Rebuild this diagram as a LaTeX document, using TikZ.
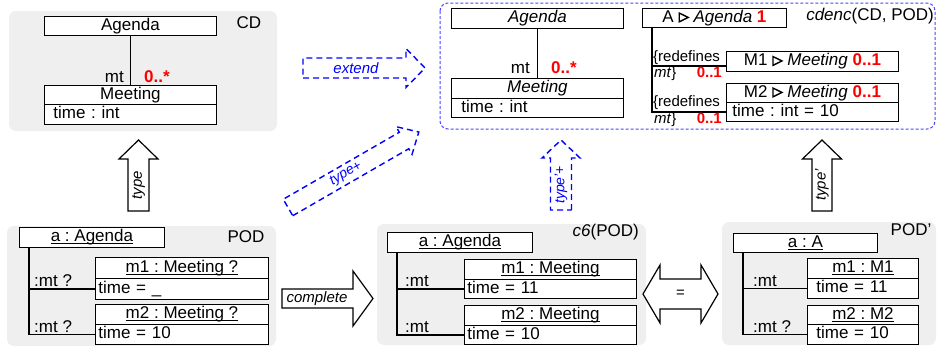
\documentclass[tikz,border=0pt]{standalone}
\usepackage{fontspec}
\setmainfont{Liberation Sans}
\definecolor{panelgray}{RGB}{239,239,239}
\definecolor{encblue}{RGB}{70,70,255}
\definecolor{multred}{RGB}{255,0,0}
\frenchspacing
\newcommand\fbig{\fontsize{17}{20}\selectfont}
\newcommand\fmid{\fontsize{15}{18}\selectfont}
\newcommand\fsml{\fontsize{14}{16}\selectfont}
\newcommand\redmult[1]{\textcolor{multred}{\bfseries #1}}
% open triangle marking the encoded class
\newcommand\subsym{\tikz[baseline=0pt]\draw[line width=1.4pt,line join=miter]
  (0pt,0.6pt) -- (0pt,9.4pt) -- (9pt,5pt) -- cycle;}
% underline drawn through the descenders, as in object names
\newsavebox\ulbox
\newcommand\undl[1]{\sbox\ulbox{#1}\rlap{\rule[-2.2pt]{\wd\ulbox}{0.9pt}}\usebox\ulbox}
% block arrow: style, start point, angle, body length, head length, body half width, head half width
\newcommand\blockarrow[7]{%
  \draw[#1,shift={#2},rotate=#3] (0,#6) -- (#4,#6) -- (#4,#7) -- ({#4+#5},0)
    -- (#4,-#7) -- (#4,-#6) -- (0,-#6) -- cycle;}
% class / object compartments: name, x, y, width, height, text
\newcommand\titlebox[6]{%
  \node[umlbox,minimum width=#4,minimum height=#5] (#1) at (#2,#3) {#6};}
% left aligned compartment: name, x, y, width, height, left padding, text
\newcommand\attrbox[7]{%
  \pgfmathsetmacro\attrtw{#4-2*#6}%
  \node[umlbox,minimum width=#4,minimum height=#5,text width=\attrtw pt,
        align=left,inner xsep=#6pt] (#1) at (#2,#3) {#7};}
\begin{document}
\begin{tikzpicture}[x=1pt,y=-1pt,
  panel/.style={fill=panelgray,draw=none,rounded corners=7pt},
  umlbox/.style={draw=black,line width=0.9pt,fill=white,inner sep=0pt,
    anchor=north west,font=\fbig,text height=12.5pt,text depth=3.5pt},
  assoc/.style={draw=black,line width=1.7pt},
  lbl/.style={inner sep=0pt,font=\fbig},
  arrlbl/.style={inner sep=0pt,font=\fmid\itshape},
  solidarrow/.style={draw=black,fill=white,line width=1.2pt,line join=miter},
  dasharrow/.style={draw=blue,line width=1.4pt,dash pattern=on 6pt off 4pt},
]
\useasboundingbox (0,0) rectangle (938,348);

% ---------- panels ----------
\fill[panel] (9,11) rectangle (277,131);
\draw[draw=encblue,line width=1pt,dash pattern=on 3pt off 2pt,rounded corners=8pt]
  (440,3) rectangle (935,129);
\fill[panel] (7,226) rectangle (276,346);
\fill[panel] (377,224) rectangle (646,345);
\fill[panel] (722,222) rectangle (936,345);

% ---------- class diagram CD ----------
\titlebox{cdAg}{44}{16}{172}{19}{Agenda}
\titlebox{cdMeet}{44}{85}{172}{19}{Meeting}
\attrbox{cdMeetA}{44}{104}{172}{20}{9}{time : int}
\draw[assoc,line width=1.5pt] (cdAg.south) -- (cdMeet.north);
\node[lbl,anchor=base east] (cdRole) at (124,82) {mt};
\node[lbl,anchor=base west] (cdMult) at (144,82) {\redmult{0..*}};
\node[lbl] (cdName) at (249,23) {CD};

% ---------- encoded class diagram ----------
\titlebox{enAg}{451}{8}{172}{20}{\textit{Agenda}}
\titlebox{enMeet}{451}{78}{172}{20}{\textit{Meeting}}
\attrbox{enMeetA}{451}{98}{172}{19}{10}{time : int}
\draw[assoc,line width=1.5pt] (enAg.south) -- (enMeet.north);
\node[lbl,anchor=base east] (enRole) at (530,73) {mt};
\node[lbl,anchor=base west] (enMult) at (551,73) {\redmult{0..*}};
\node[lbl,anchor=east] (enName) at (934,16) {\textit{cdenc}(CD, POD)};

\draw[assoc] ([xshift=10pt]642,27) coordinate (enTrunk) |- (726,66);
\titlebox{enA}{642}{8}{144}{19}{A \subsym\ \textit{Agenda} \redmult{1}}
\titlebox{enMa}{726}{51}{172}{20}{M1 \subsym\ \textit{Meeting} \redmult{0..1}}
\titlebox{enMb}{726}{83}{172}{19}{M2 \subsym\ \textit{Meeting} \redmult{0..1}}
\attrbox{enMbA}{726}{102}{172}{19}{6}{time : int = 10}
\draw[assoc] (enTrunk) |- (enMbA.west);
\node[lbl,font=\fmid,anchor=base west] (rdA) at (653,61) {\{redefines};
\node[lbl,font=\fmid,anchor=base west] (rdAr) at (654,77) {\textit{mt}\}};
\node[lbl,font=\fmid,anchor=base east] (rdAm) at (722,77) {\redmult{0..1}};
\node[lbl,font=\fmid,anchor=base west] (rdB) at (653,106) {\{redefines};
\node[lbl,font=\fmid,anchor=base west] (rdBr) at (654,123) {\textit{mt}\}};
\node[lbl,font=\fmid,anchor=base east] (rdBm) at (722,123) {\redmult{0..1}};

% ---------- partial object diagram POD ----------
\titlebox{podA}{19}{227}{145}{20}{\undl{a : Agenda}}
\titlebox{podM1}{95}{257}{173}{21}{\undl{m1 : Meeting ?}}
\attrbox{podM1A}{95}{278}{173}{21}{3}{time = \_}
\titlebox{podM2}{95}{304}{173}{20}{\undl{m2 : Meeting ?}}
\attrbox{podM2A}{95}{324}{173}{20}{3}{time = 10}
\draw[assoc] ([xshift=10pt]podA.south west) |- (podM1A.west);
\draw[assoc] ([xshift=10pt]podA.south west) |- (podM2A.west);
\node[lbl,anchor=base west] (podR1) at (34,286) {:mt ?};
\node[lbl,anchor=base west] (podR2) at (34,332) {:mt ?};
\node[lbl] (podName) at (246,237) {POD};

% ---------- completed object diagram c6(POD) ----------
\titlebox{cA}{387}{232}{145}{20}{\undl{a : Agenda}}
\titlebox{cM1}{464}{259}{172}{20}{\undl{m1 : Meeting}}
\attrbox{cM1A}{464}{279}{172}{19}{3}{time = 11}
\titlebox{cM2}{464}{305}{172}{20}{\undl{m2 : Meeting}}
\attrbox{cM2A}{464}{325}{172}{19}{3}{time = 10}
\draw[assoc] ([xshift=10pt]cA.south west) |- (cM1A.west);
\draw[assoc] ([xshift=10pt]cA.south west) |- (cM2A.west);
\node[lbl,anchor=base west] (cR1) at (405,286) {:mt};
\node[lbl,anchor=base west] (cR2) at (405,332) {:mt};
\node[lbl,anchor=east] (cName) at (639,232) {\textit{c6}(POD)};

% ---------- object diagram POD' ----------
\titlebox{pA}{733}{233}{144}{19}{\undl{a : A}}
\titlebox{pM1}{807}{258}{111}{20}{\undl{m1 : M1}}
\attrbox{pM1A}{807}{278}{111}{20}{9}{time = 11}
\titlebox{pM2}{807}{305}{111}{19}{\undl{m2 : M2}}
\attrbox{pM2A}{807}{324}{111}{20}{9}{time = 10}
\draw[assoc] ([xshift=10pt]pA.south west) |- (pM1A.west);
\draw[assoc] ([xshift=10pt]pA.south west) |- (pM2A.west);
\node[lbl,anchor=base west] (pR1) at (753,286) {:mt};
\node[lbl,anchor=base west] (pR2) at (753,332) {:mt ?};
\node[lbl] (pName) at (911,230) {POD'};

% ---------- transformation arrows ----------
\blockarrow{solidarrow}{(138.5,211)}{90}{52}{19}{10.5}{19.5}
\node[arrlbl,rotate=90] (typeLbl) at (138.5,185) {type};

\blockarrow{solidarrow}{(822,211)}{90}{52}{19}{10}{19.5}
\node[arrlbl,rotate=90] (typePLbl) at (822,185) {type'};

\blockarrow{solidarrow}{(282,298.5)}{0}{71}{20}{9.5}{27.5}
\node[arrlbl] (completeLbl) at (317,298.5) {complete};

\draw[solidarrow] (643,294) -- (660,265) -- (660,279) -- (701,279) -- (701,265)
  -- (718,294) -- (701,323) -- (701,309) -- (660,309) -- (660,323) -- cycle;
\node[lbl,font=\fmid] (eqLbl) at (680.5,294) {=};

\blockarrow{dasharrow}{(303,68)}{0}{103}{19}{10}{19.5}
\node[arrlbl,text=blue] (extendLbl) at (356,68) {extend};

\blockarrow{dasharrow}{(288,207.5)}{30}{134}{17}{9.5}{16}
\node[arrlbl,font=\fsml\itshape,text=blue,rotate=30] (typePlusLbl) at (346,174) {type+};

\blockarrow{dasharrow}{(561,210)}{90}{52}{18}{10.5}{19}
\node[arrlbl,font=\fsml\itshape,text=blue,rotate=90] (typePPlusLbl) at (561,185) {type'+};
\end{tikzpicture}
\end{document}
